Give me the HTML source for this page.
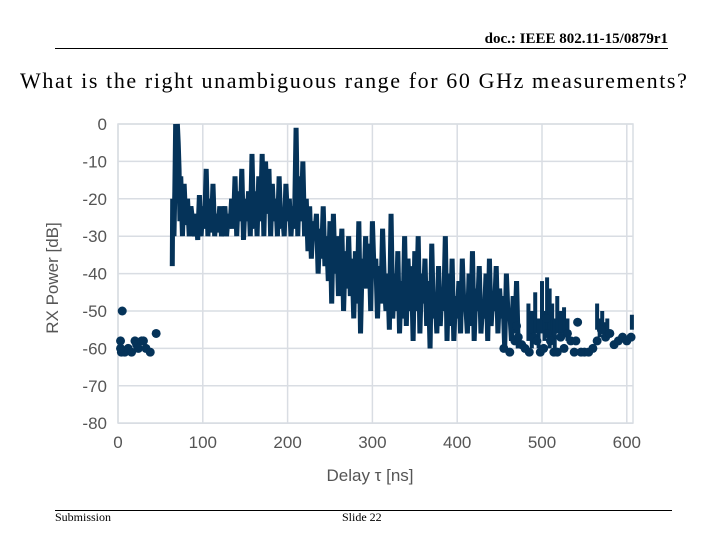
<!DOCTYPE html>
<html><head><meta charset="utf-8">
<style>
body{margin:0;width:720px;height:540px;background:#fff;position:relative;overflow:hidden;font-family:"Liberation Serif",serif}
.t{position:absolute;white-space:nowrap}
</style></head><body>
<div class="t" style="right:52px;top:31px;font-size:15px;font-weight:bold">doc.: IEEE 802.11-15/0879r1</div>
<div style="position:absolute;left:55px;top:48px;width:613px;height:1px;background:#000"></div>
<div class="t" style="left:20px;top:68px;font-size:22px;letter-spacing:1.6px">What is the right unambiguous range for 60 GHz measurements?</div>
<div style="position:absolute;left:55px;top:510px;width:617px;height:1px;background:#000"></div>
<div class="t" style="left:55px;top:510px;font-size:12px">Submission</div>
<div class="t" style="left:342px;top:510px;font-size:12px">Slide 22</div>
<svg id="chart" width="720" height="540" style="position:absolute;left:0;top:0" font-family="Liberation Sans, sans-serif"></svg>
<script>
const xTicks=[0,100,200,300,400,500,600];
const yTicks=[0,-10,-20,-30,-40,-50,-60,-70,-80];
const lineTimes=[64,64.5,66,67,68,69,70,71,72,73,74,76,78,80,82,84,86,88,90,92,94,96,98,100,102,104,106,108,110,112,114,116,118,120,122,124,126,128,130,132,134,136,138,140,142,144,146,148,150,152,154,156,158,160,162,164,166,168,170,172,174,176,178,180,182,184,186,188,190,192,194,196,198,200,202,204,206,208,210,212,214,216,218,220,222,224,226,228,230,232,234,236,238,240,242,244,246,248,250,252,254,256,258,260,262,264,266,268,270,272,274,276,278,280,282,284,286,288,290,292,294,296,298,300,302,304,306,308,310,312,314,316,318,320,322,324,326,328,330,332,334,336,338,340,342,344,346,348,350,352,354,356,358,360,362,364,366,368,370,372,374,376,378,380,382,384,386,388,390,392,394,396,398,400,402,404,406,408,410,412,414,416,418,420,422,424,426,428,430,432,434,436,438,440,442,444,446,448,450,452,454,456,458,460,462,464,466,468,470,472,474,476,478,480];
const lineValues=[-38,-20,-30,-18,0,-15,0,-5,-12,-26,-14,-30,-16,-27,-20,-30,-22,-26,-30,-24,-31,-19,-30,-22,-28,-12,-30,-20,-29,-16,-30,-24,-29,-22,-30,-26,-22,-30,-24,-28,-20,-28,-14,-30,-18,-26,-12,-31,-20,-26,-18,-30,-8,-28,-18,-30,-14,-26,-8,-30,-10,-24,-12,-30,-16,-26,-20,-30,-14,-28,-24,-30,-16,-26,-20,-30,-22,-28,-1,-30,-14,-26,-10,-30,-20,-34,-22,-36,-26,-30,-24,-40,-28,-36,-22,-38,-30,-42,-26,-48,-24,-40,-30,-46,-38,-28,-50,-34,-44,-30,-46,-36,-52,-34,-48,-26,-56,-36,-44,-30,-44,-32,-50,-26,-40,-36,-52,-38,-48,-28,-42,-50,-40,-55,-24,-52,-40,-50,-34,-56,-42,-52,-30,-54,-36,-50,-38,-58,-34,-50,-30,-56,-40,-48,-36,-54,-42,-60,-32,-52,-46,-56,-38,-54,-44,-50,-30,-58,-40,-54,-36,-58,-46,-52,-42,-56,-36,-50,-48,-56,-40,-54,-34,-58,-44,-50,-38,-56,-48,-52,-40,-58,-36,-54,-46,-50,-38,-56,-44,-52,-46,-60,-40,-52,-50,-58,-46,-56,-42,-60];
const tailTimes=[484,488,492,496,500,503,506,509,512,515,518,522,526,530,565,568,571,574,577,606];
const tailHigh=[-48,-50,-45,-52,-42,-50,-41,-44,-48,-52,-46,-50,-49,-52,-48,-52,-50,-53,-52,-51];
const tailLow=[-58,-60,-56,-60,-56,-58,-56,-60,-58,-60,-56,-58,-56,-58,-55,-57,-56,-58,-56,-55];
const dotTimes=[5,3,4,8,12,16,20,22,24,28,30,33,38,45,455,462,468,472,476,480,485,490,494,498,502,506,510,514,518,522,526,530,534,538,542,546,550,555,560,565,570,575,580,585,590,595,600,605,3,470,505,540];
const dotValues=[-50,-58,-61,-61,-60,-61,-58,-59,-60,-58,-58,-60,-61,-56,-60,-61,-58,-57,-59,-60,-61,-57,-58,-61,-60,-56,-58,-61,-61,-57,-60,-56,-58,-61,-53,-61,-61,-61,-60,-58,-55,-57,-56,-59,-58,-57,-58,-57,-60,-54,-52,-58];
const svg=document.getElementById('chart');
const NS='http://www.w3.org/2000/svg';
const X=v=>118+v*0.848, Y=v=>124-v*3.74;
function mk(tag,attrs){const e=document.createElementNS(NS,tag);for(const k in attrs)e.setAttribute(k,attrs[k]);svg.appendChild(e);return e;}
const frame=mk('rect',{x:118,y:124,width:515,height:299,fill:'none',stroke:'#d9dde3','stroke-width':1.5});


xTicks.forEach(t=>{
 const g=mk('line',{x1:X(t),x2:X(t),y1:124,y2:423,stroke:'#d9dde3','stroke-width':1.5});
 
 
 const l=mk('text',{x:X(t),y:448,'text-anchor':'middle','font-size':17,fill:'#555'});l.textContent=t;
 
 
});
yTicks.forEach(t=>{
 const g=mk('line',{x1:118,x2:633,y1:Y(t),y2:Y(t),stroke:'#d9dde3','stroke-width':1.5});
 
 
 const l=mk('text',{x:107,y:Y(t)+6,'text-anchor':'end','font-size':17,fill:'#555'});l.textContent=t;
 
 
});
const yl=mk('text',{x:0,y:0,transform:'translate(58,278) rotate(-90)','text-anchor':'middle','font-size':17,fill:'#555'});
yl.textContent='RX Power [dB]';


const xl=mk('text',{x:370,y:481,'text-anchor':'middle','font-size':17,fill:'#555'});
xl.textContent='Delay  τ [ns]';


const p=mk('polyline',{points:lineTimes.map((t,i)=>X(t)+','+Y(lineValues[i])).join(' '),fill:'none',stroke:'#053359','stroke-width':5,'stroke-linejoin':'miter'});


tailTimes.forEach((t,i)=>{
 const s=mk('line',{x1:X(t),x2:X(t),y1:Y(tailHigh[i]),y2:Y(tailLow[i]),stroke:'#053359','stroke-width':4});
 
 
});
dotTimes.forEach((t,i)=>{
 const c=mk('circle',{cx:X(t),cy:Y(dotValues[i]),r:4.5,fill:'#053359'});
 
 
});
</script>
</body></html>
